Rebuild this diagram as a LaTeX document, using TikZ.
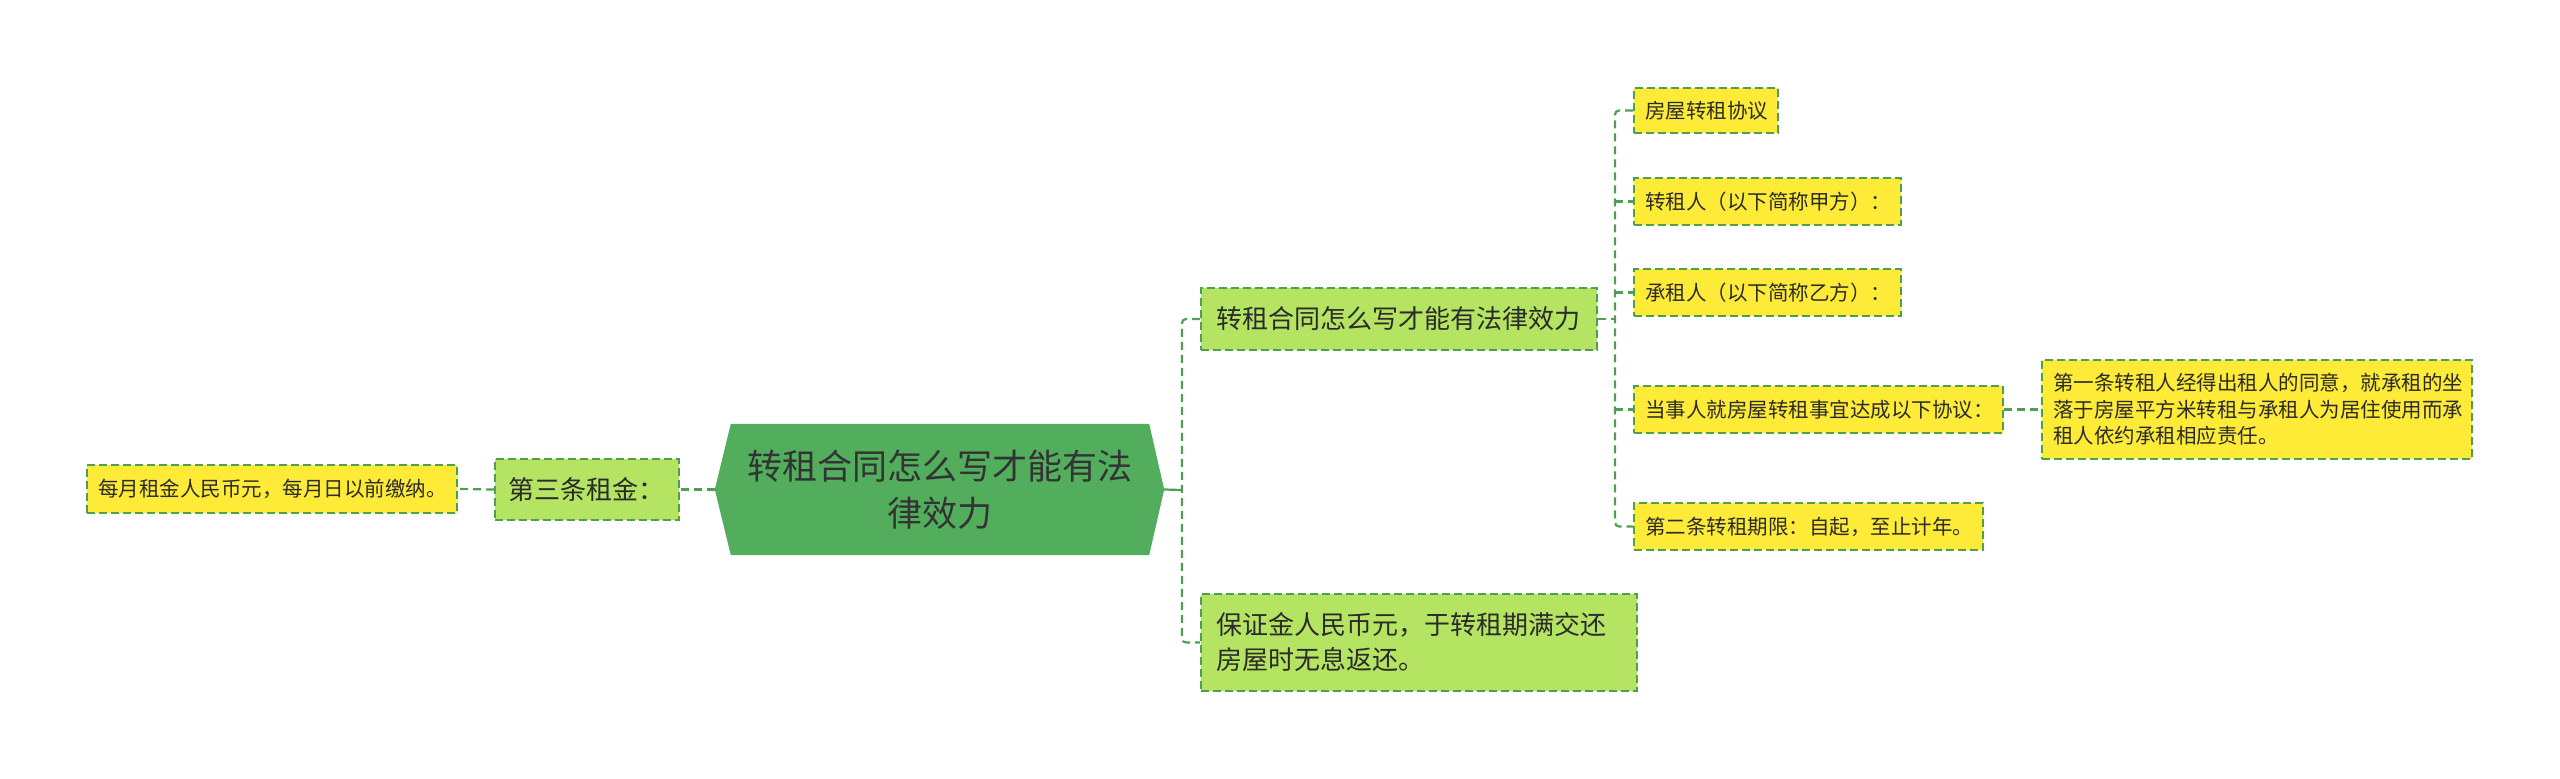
\documentclass[tikz,border=0pt]{standalone}
\usepackage{fontspec}
\setmainfont{Noto Sans CJK SC}
\usetikzlibrary{backgrounds}
\definecolor{rootfill}{HTML}{52AE5D}
\definecolor{branchfill}{HTML}{B4E461}
\definecolor{leaffill}{HTML}{FDEB37}
\definecolor{linegreen}{HTML}{4E9F52}
\definecolor{txt}{HTML}{2B2B2B}
\definecolor{roottxt}{HTML}{333333}
\tikzset{
  boxbase/.style={draw=linegreen, line width=1.8pt, dash pattern=on 8pt off 4pt,
    inner ysep=0pt, align=left, text=txt, anchor=center},
  branchbox/.style={boxbase, fill=branchfill, inner xsep=15pt,
    font=\fontsize{26}{35}\selectfont},
  leafbox/.style={boxbase, fill=leaffill, inner xsep=11pt,
    font=\fontsize{20.5}{26.5}\selectfont},
  conn/.style={draw=linegreen, line width=2.2pt, dash pattern=on 8pt off 5pt, rounded corners=4pt},
  solidconn/.style={draw=linegreen, line width=2.2pt}
}
\begin{document}
\begin{tikzpicture}[x=1pt,y=-1pt]
\useasboundingbox (0,0) rectangle (2560,779);

% root
\node[minimum width=449pt, minimum height=131pt, inner sep=0pt, align=center,
  text=roottxt, font=\fontsize{35}{47}\selectfont] (root) at (939.5,489.5)
  {转租合同怎么写才能有法\\律效力};
\begin{pgfonlayer}{background}
\fill[rootfill] (root.west) -- ([xshift=16pt]root.north west) -- ([xshift=-15pt]root.north east)
  -- (root.east) -- ([xshift=-15pt]root.south east) -- ([xshift=16pt]root.south west) -- cycle;
\end{pgfonlayer}

% left side
\node[branchbox, text width=158pt, inner xsep=13pt, minimum height=61pt] (third) at (587,489.5) {第三条租金：};
\node[leafbox, text width=348pt, minimum height=48pt] (leafL) at (272,489)
  {每月租金人民币元，每月日以前缴纳。};

% right branches
\node[branchbox, text width=366pt, minimum height=62pt] (b1) at (1399,319)
  {转租合同怎么写才能有法律效力};
\node[branchbox, text width=406pt, minimum height=97pt] (b2) at (1419,642.5)
  {保证金人民币元，于转租期满交还\\房屋时无息返还。};

% leaves
\node[leafbox, text width=122pt, minimum height=45pt] (l1) at (1706,110.5) {房屋转租协议};
\node[leafbox, text width=245pt, minimum height=47pt] (l2) at (1767.5,201.5) {转租人（以下简称甲方）：};
\node[leafbox, text width=245pt, minimum height=47pt] (l3) at (1767.5,292.5) {承租人（以下简称乙方）：};
\node[leafbox, text width=347pt, minimum height=47pt] (l4) at (1818.5,409.5) {当事人就房屋转租事宜达成以下协议：};
\node[leafbox, text width=327pt, minimum height=47pt] (l5) at (1808.5,526.5) {第二条转租期限：自起，至止计年。};
\node[leafbox, text width=408pt, minimum height=99pt] (l6) at (2257,409.5)
  {第一条转租人经得出租人的同意，就承租的坐\\落于房屋平方米转租与承租人为居住使用而承\\租人依约承租相应责任。};

% connectors
\coordinate (s1) at (1182,490);
\coordinate (s2) at (1615,319);
\draw[solidconn] (root.east) -- (s1);
\draw[conn] (b1.west) -- (s1 |- b1.west) -- (s1 |- b2.west) -- (b2.west);
\draw[conn] (root.west) -- (third.east);
\draw[conn] (third.west) -- (leafL.east);
\draw[conn] (b1.east) -- (s2);
\draw[conn] (l1.west) -- (s2 |- l1.west) -- (s2 |- l5.west) -- (l5.west);
\draw[conn] (s2 |- l2.west) -- (l2.west);
\draw[conn] (s2 |- l3.west) -- (l3.west);
\draw[conn] (s2 |- l4.west) -- (l4.west);
\draw[conn] (l4.east) -- (l6.west);
\end{tikzpicture}
\end{document}
